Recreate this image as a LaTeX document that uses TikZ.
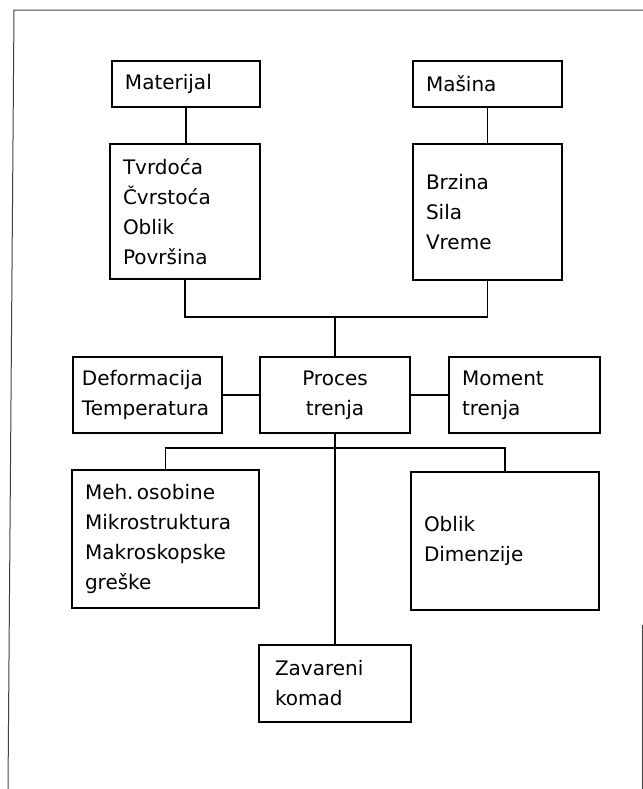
\documentclass[tikz,border=0pt]{standalone}
\usepackage{fontspec}
\setmainfont{DejaVu Sans}
\usetikzlibrary{calc}

\tikzset{
	blok/.style = {draw, line width = 1.35pt, inner xsep = 6.5pt, inner ysep = 2pt, align = left, font = \fontsize{10}{15}\selectfont},
	veza/.style = {line width = 0.65pt},
}

\begin{document}
\begin{tikzpicture}[x = 0.5pt, y = -0.5pt]
	\useasboundingbox (0,0) rectangle (643,789);

	% okvir
	\begin{scope}[line width = 0.5pt, black!75]
		\draw (8,789) -- (14,10) -- (643,10);
		\draw (642,625) -- (642,789);
	\end{scope}

	\begin{scope}
		\node [blok, text width = 61pt, minimum height = 23pt] (materijal) at (186,84) {Materijal};
		\node [blok, text width = 61.5pt, minimum height = 23pt] (masina) at (487.5,84) {Mašina};
		\node [blok, text width = 62pt, minimum height = 67.5pt] (svojstva) at (185,211.5) {Tvrdoća\\Čvrstoća\\Oblik\\Površina};
		\node [blok, text width = 61.5pt, minimum height = 68pt] (parametri) at (487.5,212) {Brzina\\Sila\\Vreme};
	\end{scope}

	\begin{scope}
		\node [blok, inner xsep = 4.5pt, text width = 65.5pt, minimum height = 38pt] (deformacija) at (147.5,395) {Deformacija\\Temperatura};
		\node [blok, align = center, text width = 62pt, minimum height = 38pt] (proces) at (335,395) {Proces\\trenja};
		\node [blok, text width = 62.5pt, minimum height = 38pt] (moment) at (524.5,395) {Moment\\trenja};
	\end{scope}

	\begin{scope}
		\node [blok, text width = 80.5pt, minimum height = 69pt] (osobine) at (165.5,539) {Meh.\,osobine\\Mikrostruktura\\Makroskopske\\greške};
		\node [blok, text width = 81pt, minimum height = 69pt] (oblik) at (505,541) {Oblik\\Dimenzije};
		\node [blok, inner xsep = 8pt, text width = 60pt, minimum height = 38.5pt] (komad) at (335,683.5) {Zavareni\\komad};
	\end{scope}

	\coordinate (spoj) at (335,317);
	\coordinate (grana) at (335,448);

	\begin{scope}[veza]
		\draw (materijal.south) -- (materijal.south |- svojstva.north);
		\draw (masina.south) -- (masina.south |- parametri.north);
		\draw (svojstva.south) |- (spoj) -| (parametri.south);
		\draw (spoj) -- (proces.north);
		\draw (deformacija.east) -- (proces.west);
		\draw (proces.east) -- (moment.west);
		\draw (proces.south) -- (komad.north);
		\draw (osobine.north) |- (grana) -| (oblik.north);
	\end{scope}
\end{tikzpicture}
\end{document}
